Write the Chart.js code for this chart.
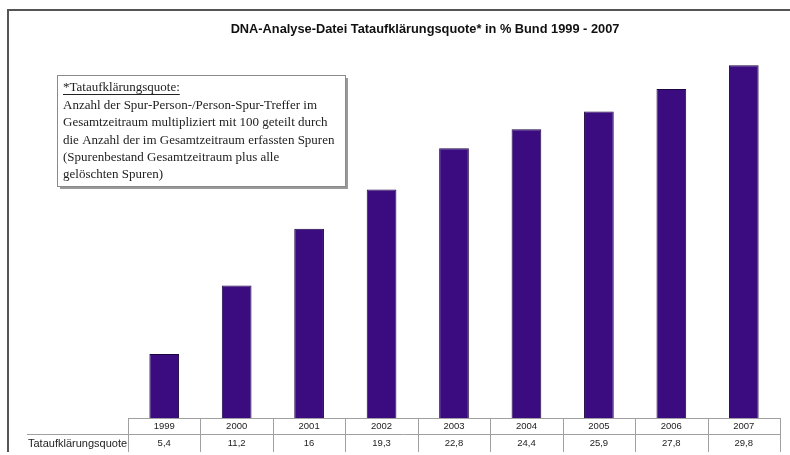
<!DOCTYPE html>
<html lang="de">
<head>
<meta charset="utf-8">
<title>DNA-Analyse-Datei Tataufklärungsquote</title>
<script src="https://cdn.jsdelivr.net/npm/chart.js@4/dist/chart.umd.min.js"></script>
<style>
  html, body { margin: 0; padding: 0; background: #fff; }
  canvas { display: block; }
</style>
</head>
<body>
<canvas id="chartQuote" width="790" height="455"></canvas>
<script>
/* Tataufklärungsquote der DNA-Analyse-Datei, Bund 1999 - 2007 */

const jahre = ["1999", "2000", "2001", "2002", "2003", "2004", "2005", "2006", "2007"];
const quote = [5.4, 11.2, 16, 19.3, 22.8, 24.4, 25.9, 27.8, 29.8];
const zeilenTitel = "Tataufklärungsquote";
const titel = "DNA-Analyse-Datei Tataufklärungsquote* in % Bund 1999 - 2007";
const fussnote = [
  "*Tataufklärungsquote:",
  "Anzahl der Spur-Person-/Person-Spur-Treffer im",
  "Gesamtzeitraum multipliziert mit 100 geteilt durch",
  "die Anzahl der im Gesamtzeitraum erfassten Spuren",
  "(Spurenbestand Gesamtzeitraum plus alle",
  "gelöschten Spuren)",
];

const SANS = "'Liberation Sans', Arial, sans-serif";
const SERIF = "'Liberation Serif', 'Times New Roman', serif";

// Rahmen, Titel, Fußnotenkasten und Datentabelle unter den Säulen
const rahmenPlugin = {
  id: "rahmen",
  afterDraw(chart) {
    const c = chart.ctx;
    const area = chart.chartArea;
    const xs = chart.scales.x;
    c.save();

    // äußerer Rahmen (oben und links)
    c.strokeStyle = "#555";
    c.lineWidth = 2;
    c.beginPath();
    c.moveTo(8, 452);
    c.lineTo(8, 10);
    c.lineTo(790, 10);
    c.stroke();

    // Titel
    c.fillStyle = "#111";
    c.font = "bold 12.8px " + SANS;
    c.textAlign = "center";
    c.textBaseline = "middle";
    c.fillText(titel, 425, 29);

    // Fußnotenkasten mit Schatten
    const bx = 57, by = 75, bw = 288, bh = 111;
    c.fillStyle = "#9a9a9a";
    c.fillRect(bx + 3, by + 3, bw, bh);
    c.fillStyle = "#fff";
    c.fillRect(bx, by, bw, bh);
    c.strokeStyle = "#8a8a8a";
    c.lineWidth = 1;
    c.strokeRect(bx + 0.5, by + 0.5, bw, bh);

    c.fillStyle = "#222";
    c.font = "13px " + SERIF;
    c.textAlign = "left";
    c.textBaseline = "middle";
    fussnote.forEach((zeile, i) => {
      const y = 88 + i * 17.4;
      c.fillText(zeile, 63, y);
      if (i === 0) {
        const w = c.measureText(zeile).width;
        c.fillRect(63, y + 6, w, 1);
      }
    });

    // Datentabelle
    const n = jahre.length;
    const breite = (area.right - area.left) / n;
    const oben = area.bottom, mitte = 434, unten = 452;
    c.strokeStyle = "#a0a0a0";
    c.lineWidth = 1;
    c.beginPath();
    c.moveTo(area.left, oben + 0.5);
    c.lineTo(area.right, oben + 0.5);
    c.moveTo(27, mitte + 0.5);
    c.lineTo(area.right, mitte + 0.5);
    for (let i = 0; i <= n; i++) {
      const x = Math.round(area.left + i * breite) + 0.5;
      c.moveTo(x, oben);
      c.lineTo(x, unten);
    }
    c.stroke();

    c.fillStyle = "#222";
    c.font = "9.5px " + SANS;
    c.textAlign = "center";
    jahre.forEach((j, i) => {
      const x = xs.getPixelForValue(i);
      c.fillText(j, x, 426.5);
      c.fillText(String(quote[i]).replace(".", ","), x, 443.5);
    });
    c.font = "11px " + SANS;
    c.textAlign = "left";
    c.fillText(zeilenTitel, 28, 443.5);

    c.restore();
  },
};

new Chart(document.getElementById("chartQuote"), {
  type: "bar",
  data: {
    labels: jahre,
    datasets: [{
      label: zeilenTitel,
      data: quote,
      backgroundColor: "#3b0c80",
      borderColor: "#1c0640",
      borderWidth: 1,
      categoryPercentage: 1,
      barPercentage: 0.41,
    }],
  },
  options: {
    responsive: false,
    animation: false,
    layout: { padding: { left: 128, right: 10, top: 63, bottom: 37 } },
    plugins: {
      legend: { display: false },
      tooltip: { enabled: false },
      title: { display: false },
    },
    scales: {
      x: { display: false },
      y: { display: false, min: 0, max: 30 },
    },
  },
  plugins: [rahmenPlugin],
});
</script>
</body>
</html>
